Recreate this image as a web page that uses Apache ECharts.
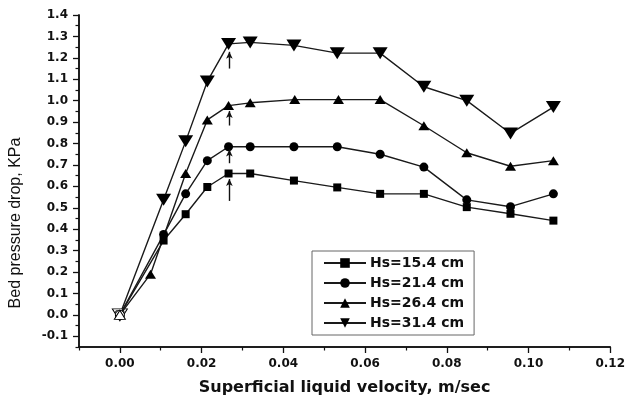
<!DOCTYPE html>
<html>
<head>
<meta charset="utf-8">
<script src="https://cdn.jsdelivr.net/npm/echarts@6/dist/echarts.min.js"></script>
<style>
  html, body { margin: 0; padding: 0; background: #fff; }
  #chart { width: 628px; height: 401px; }
</style>
</head>
<body>
<div id="chart"></div>
<script>
// data
const seriesNames = ["Hs=15.4 cm", "Hs=21.4 cm", "Hs=26.4 cm", "Hs=31.4 cm"];
const velocity = [0, 0.0107, 0.0161, 0.0214, 0.0266, 0.0319, 0.0426, 0.0532, 0.0637, 0.0744, 0.0849, 0.0956, 0.1061];
const velocity264 = [0, 0.0075, 0.0161, 0.0214, 0.0266, 0.0319, 0.0428, 0.0535, 0.0637, 0.0744, 0.0849, 0.0956, 0.1061];
const drop154 = [0, 0.347, 0.47, 0.597, 0.66, 0.66, 0.627, 0.595, 0.565, 0.565, 0.503, 0.472, 0.44];
const drop214 = [0, 0.375, 0.565, 0.72, 0.785, 0.785, 0.785, 0.785, 0.75, 0.69, 0.537, 0.505, 0.565];
const drop264 = [0, 0.19, 0.66, 0.91, 0.977, 0.99, 1.005, 1.005, 1.005, 0.883, 0.757, 0.694, 0.72];
const drop314 = [0, 0.537, 0.81, 1.09, 1.265, 1.272, 1.258, 1.222, 1.222, 1.065, 1.0, 0.847, 0.97];
// arrows marking onset points: [x, yFrom, yTo]
const arrows = [
  [0.0268, 0.532, 0.634],
  [0.0268, 0.708, 0.772],
  [0.0268, 0.884, 0.952],
  [0.0268, 1.15, 1.228]
];
const xTicks = [0, 0.02, 0.04, 0.06, 0.08, 0.10, 0.12];
const xMinorTicks = [-0.01, 0.01, 0.03, 0.05, 0.07, 0.09, 0.11];
const yTicks = [-0.1, 0, 0.1, 0.2, 0.3, 0.4, 0.5, 0.6, 0.7, 0.8, 0.9, 1.0, 1.1, 1.2, 1.3, 1.4];
const yMinorTicks = [-0.15, -0.05, 0.05, 0.15, 0.25, 0.35, 0.45, 0.55, 0.65, 0.75, 0.85, 0.95, 1.05, 1.15, 1.25, 1.35];

const chart = echarts.init(document.getElementById("chart"));

function pairs(xs, ys) {
  return ys.map((y, i) => {
    if (i === 0) {
      // origin point drawn open
      return { value: [xs[i], y], itemStyle: { color: "#fff", borderColor: "#000", borderWidth: 1 } };
    }
    return [xs[i], y];
  });
}

const lineStyle = { color: "#1a1a1a", width: 1.4 };
const tickFont = { fontFamily: "DejaVu Sans", fontWeight: "bold", fontSize: 12, color: "#111" };

function axisBase() {
  return {
    axisLine: { show: true, onZero: false, lineStyle: { color: "#111", width: 1.5 } },
    splitLine: { show: false }
  };
}

const option = {
  animation: false,
  backgroundColor: "#fff",
  grid: { left: 79, right: 15, top: 15, bottom: 50 },
  legend: {
    orient: "vertical",
    left: 312,
    top: 251,
    data: seriesNames,
    itemWidth: 42,
    itemHeight: 12,
    itemGap: 6,
    padding: [5, 10, 5, 11],
    borderColor: "#666",
    borderWidth: 1,
    textStyle: { fontFamily: "DejaVu Sans", fontWeight: "bold", fontSize: 14, color: "#111", padding: [0, 0, 0, -1] }
  },
  xAxis: [
    Object.assign(axisBase(), {
      type: "value",
      min: -0.01,
      max: 0.12,
      name: "Superficial liquid velocity, m/sec",
      nameLocation: "middle",
      nameGap: 33,
      nameTextStyle: { fontFamily: "DejaVu Sans", fontWeight: "bold", fontSize: 16, color: "#111" },
      axisTick: { show: true, customValues: xTicks, length: 6, lineStyle: { color: "#111", width: 1.3 } },
      axisLabel: Object.assign({ customValues: xTicks, margin: 11, formatter: v => v.toFixed(2) }, tickFont)
    }),
    Object.assign(axisBase(), {
      type: "value",
      min: -0.01,
      max: 0.12,
      position: "bottom",
      axisTick: { show: true, customValues: xMinorTicks, length: 3.5, lineStyle: { color: "#111", width: 1.2 } },
      axisLabel: { show: false }
    })
  ],
  yAxis: [
    Object.assign(axisBase(), {
      type: "value",
      min: -0.15,
      max: 1.4,
      axisTick: { show: true, customValues: yTicks, length: 6, lineStyle: { color: "#111", width: 1.3 } },
      axisLabel: Object.assign({ customValues: yTicks, margin: 11, formatter: v => v.toFixed(1) }, tickFont)
    }),
    Object.assign(axisBase(), {
      type: "value",
      min: -0.15,
      max: 1.4,
      position: "left",
      axisTick: { show: true, customValues: yMinorTicks, length: 3.5, lineStyle: { color: "#111", width: 1.2 } },
      axisLabel: { show: false }
    })
  ],
  graphic: [
    {
      type: "text",
      x: 16,
      y: 223,
      rotation: Math.PI / 2,
      style: {
        text: "Bed pressure drop, KPa",
        fontFamily: "Liberation Sans",
        fontSize: 16,
        fill: "#111",
        align: "center",
        verticalAlign: "middle"
      }
    }
  ],
  series: [
    {
      name: seriesNames[0],
      type: "line",
      data: pairs(velocity, drop154),
      symbol: "rect",
      symbolSize: 8,
      itemStyle: { color: "#000" },
      lineStyle: lineStyle,
      z: 3,
      markLine: {
        silent: true,
        symbol: ["none", "arrow"],
        symbolSize: [5, 7],
        label: { show: false },
        lineStyle: { color: "#111", width: 1.4, type: "solid" },
        data: arrows.map(a => [{ coord: [a[0], a[1]] }, { coord: [a[0], a[2]] }])
      }
    },
    {
      name: seriesNames[1],
      type: "line",
      data: pairs(velocity, drop214),
      symbol: "circle",
      symbolSize: 9,
      itemStyle: { color: "#000" },
      lineStyle: lineStyle,
      z: 3
    },
    {
      name: seriesNames[2],
      type: "line",
      data: pairs(velocity264, drop264),
      symbol: "triangle",
      symbolSize: [11, 9],
      itemStyle: { color: "#000" },
      lineStyle: lineStyle,
      z: 3
    },
    {
      name: seriesNames[3],
      type: "line",
      data: pairs(velocity, drop314),
      symbol: "triangle",
      symbolRotate: 180,
      symbolSize: [15, 12],
      itemStyle: { color: "#000" },
      lineStyle: lineStyle,
      z: 2
    }
  ]
};

chart.setOption(option);
</script>
</body>
</html>
